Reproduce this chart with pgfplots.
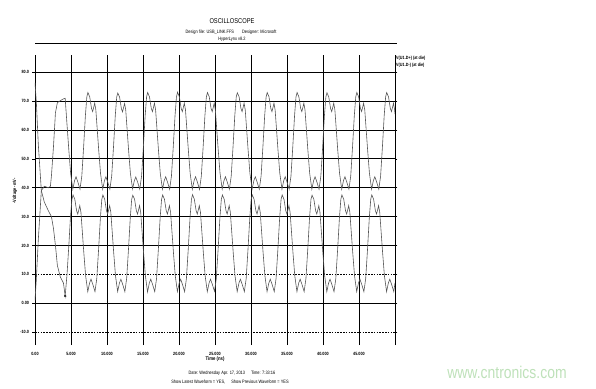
\documentclass[border=0pt]{standalone}
\usepackage{pgfplots}
\usepackage{pgfplotstable}
\pgfplotsset{compat=1.18}
\usepackage{fontspec}
\setmainfont{Liberation Sans}[FakeStretch=0.82]

\definecolor{trace}{RGB}{85,85,85}
\definecolor{wmark}{RGB}{190,225,185}

% upper trace, time in ns
\pgfplotstableread[row sep=\\]{
t v\\
0.00 1.0\\ 0.18 8\\ 0.46 22\\ 0.88 39\\ 1.30 40.5\\ 1.86 40\\ 2.14 40.5\\ 2.28 44\\ 2.56 54\\
2.84 66\\ 3.11 69.5\\ 3.53 70.2\\ 3.95 70.8\\ 4.19 71\\ 4.50 60\\ 4.70 53\\ 4.95 45\\ 5.25 39.5\\
5.50 42.5\\ 5.70 43.8\\ 5.95 42\\ 6.25 39.5\\ 6.50 44\\ 6.75 54\\ 7.00 65\\ 7.20 71.5\\
7.35 73\\ 7.60 71.5\\ 7.85 67.5\\ 8.01 66.4\\ 8.15 67.8\\ 8.29 69.3\\ 8.45 67\\ 8.65 60\\ 8.85 53\\
9.10 45\\ 9.40 39.5\\ 9.65 42.5\\ 9.85 43.8\\ 10.10 42\\ 10.40 39.5\\ 10.65 44\\ 10.90 54\\ 11.15 65\\ 11.35 71.5\\
11.50 72.8\\ 11.75 71.4\\ 12.00 67.4\\ 12.16 66.3\\ 12.30 67.8\\ 12.44 69.2\\ 12.60 67\\ 12.80 60\\ 13.00 53\\
13.25 45\\ 13.55 39.6\\ 13.80 42.5\\ 14.00 43.7\\ 14.25 42\\ 14.55 39.5\\ 14.80 44\\ 15.05 54\\ 15.30 65\\ 15.50 71.5\\
15.65 73\\ 15.90 71.5\\ 16.15 67.5\\ 16.31 66.4\\ 16.45 67.8\\ 16.59 69.3\\ 16.75 67\\ 16.95 60\\ 17.15 53\\
17.40 45\\ 17.70 39.5\\ 17.95 42.5\\ 18.15 43.8\\ 18.40 42\\ 18.70 39.5\\ 18.95 44\\ 19.20 54\\ 19.45 65\\ 19.65 71.5\\
19.80 73.1\\ 20.05 71.5\\ 20.30 67.5\\ 20.46 66.4\\ 20.60 67.8\\ 20.74 69.3\\ 20.90 67\\ 21.10 60\\ 21.30 53\\
21.55 45\\ 21.85 39.5\\ 22.10 42.5\\ 22.30 43.8\\ 22.55 42\\ 22.85 39.4\\ 23.10 44\\ 23.35 54\\ 23.60 65\\ 23.80 71.5\\
23.95 73\\ 24.20 71.5\\ 24.45 67.5\\ 24.61 66.4\\ 24.75 67.8\\ 24.89 69.3\\ 25.05 67\\ 25.25 60\\ 25.45 53\\
25.70 45\\ 26.00 39.5\\ 26.25 42.5\\ 26.45 43.8\\ 26.70 42\\ 27.00 39.5\\ 27.25 44\\ 27.50 54\\ 27.75 65\\ 27.95 71.5\\
28.10 72.9\\ 28.35 71.5\\ 28.60 67.5\\ 28.76 66.4\\ 28.90 67.8\\ 29.04 69.3\\ 29.20 67\\ 29.40 60\\ 29.60 53\\
29.85 45\\ 30.15 39.5\\ 30.40 42.5\\ 30.60 43.8\\ 30.85 42\\ 31.15 39.5\\ 31.40 44\\ 31.65 54\\ 31.90 65\\ 32.10 71.5\\
32.25 73\\ 32.50 71.5\\ 32.75 67.5\\ 32.91 66.4\\ 33.05 67.8\\ 33.19 69.3\\ 33.35 67\\ 33.55 60\\ 33.75 53\\
34.00 45\\ 34.30 39.5\\ 34.55 42.5\\ 34.75 43.8\\ 35.00 42\\ 35.30 39.5\\ 35.55 44\\ 35.80 54\\ 36.05 65\\ 36.25 71.5\\
36.40 73\\ 36.65 71.5\\ 36.90 67.5\\ 37.06 66.4\\ 37.20 67.8\\ 37.34 69.3\\ 37.50 67\\ 37.70 60\\ 37.90 53\\
38.15 45\\ 38.45 39.5\\ 38.70 42.5\\ 38.90 43.8\\ 39.15 42\\ 39.45 39.5\\ 39.70 44\\ 39.95 54\\ 40.20 65\\ 40.40 71.5\\
40.55 72.9\\ 40.80 71.5\\ 41.05 67.5\\ 41.21 66.4\\ 41.35 67.8\\ 41.49 69.3\\ 41.65 67\\ 41.85 60\\ 42.05 53\\
42.30 45\\ 42.60 39.5\\ 42.85 42.5\\ 43.05 43.8\\ 43.30 42\\ 43.60 39.5\\ 43.85 44\\ 44.10 54\\ 44.35 65\\ 44.55 71.5\\
44.70 73\\ 44.95 71.5\\ 45.20 67.5\\ 45.36 66.4\\ 45.50 67.8\\ 45.64 69.3\\ 45.80 67\\ 46.00 60\\ 46.20 53\\
46.45 45\\ 46.75 39.5\\ 47.00 42.5\\ 47.20 43.8\\ 47.45 42\\ 47.75 39.5\\ 48.00 44\\ 48.25 54\\ 48.50 65\\ 48.70 71.5\\
48.85 73\\ 49.10 71.5\\ 49.35 67.5\\ 49.51 66.4\\ 49.65 67.8\\ 49.79 69.3\\ 49.95 67\\ 50.00 65.5\\
}\uppertrace

% lower trace, time in ns
\pgfplotstableread[row sep=\\]{
t v\\
0.00 76.3\\ 0.18 70\\ 0.46 55\\ 0.88 39\\ 1.30 35\\ 1.86 32\\ 2.28 30\\ 2.56 26\\ 2.84 20\\
3.11 13\\ 3.53 9\\ 3.95 7\\ 4.19 2.5\\ 4.45 10\\ 4.70 20\\ 4.93 30\\ 5.13 36\\
5.28 37.5\\ 5.53 36\\ 5.78 32\\ 5.94 30.9\\ 6.08 32.3\\ 6.22 33.8\\ 6.38 31.5\\ 6.58 24.5\\ 6.78 17.5\\
7.03 9.5\\ 7.33 4\\ 7.58 7\\ 7.78 8.3\\ 8.03 6.5\\ 8.33 4\\ 8.58 8.5\\ 8.83 18.5\\ 9.08 29.5\\ 9.28 36\\
9.43 37.5\\ 9.68 36\\ 9.93 32\\ 10.09 30.9\\ 10.23 32.3\\ 10.37 33.8\\ 10.53 31.5\\ 10.73 24.5\\ 10.93 17.5\\
11.18 9.5\\ 11.48 4\\ 11.73 7\\ 11.93 8.3\\ 12.18 6.5\\ 12.48 4\\ 12.73 8.5\\ 12.98 18.5\\ 13.23 29.5\\ 13.43 36\\
13.58 37.4\\ 13.83 36\\ 14.08 32\\ 14.24 30.9\\ 14.38 32.3\\ 14.52 33.8\\ 14.68 31.5\\ 14.88 24.5\\ 15.08 17.5\\
15.33 9.5\\ 15.63 3.9\\ 15.88 7\\ 16.08 8.3\\ 16.33 6.5\\ 16.63 4\\ 16.88 8.5\\ 17.13 18.5\\ 17.38 29.5\\ 17.58 36\\
17.73 37.5\\ 17.98 36\\ 18.23 32\\ 18.39 30.9\\ 18.53 32.3\\ 18.67 33.8\\ 18.83 31.5\\ 19.03 24.5\\ 19.23 17.5\\
19.48 9.5\\ 19.78 4\\ 20.03 7\\ 20.23 8.3\\ 20.48 6.5\\ 20.78 4\\ 21.03 8.5\\ 21.28 18.5\\ 21.53 29.5\\ 21.73 36\\
21.88 37.6\\ 22.13 36\\ 22.38 32\\ 22.54 30.9\\ 22.68 32.3\\ 22.82 33.8\\ 22.98 31.5\\ 23.18 24.5\\ 23.38 17.5\\
23.63 9.5\\ 23.93 4\\ 24.18 7\\ 24.38 8.3\\ 24.63 6.5\\ 24.93 4.1\\ 25.18 8.5\\ 25.43 18.5\\ 25.68 29.5\\ 25.88 36\\
26.03 37.5\\ 26.28 36\\ 26.53 32\\ 26.69 30.9\\ 26.83 32.3\\ 26.97 33.8\\ 27.13 31.5\\ 27.33 24.5\\ 27.53 17.5\\
27.78 9.5\\ 28.08 4\\ 28.33 7\\ 28.53 8.3\\ 28.78 6.5\\ 29.08 4\\ 29.33 8.5\\ 29.58 18.5\\ 29.83 29.5\\ 30.03 36\\
30.18 37.5\\ 30.43 36\\ 30.68 32\\ 30.84 30.9\\ 30.98 32.3\\ 31.12 33.8\\ 31.28 31.5\\ 31.48 24.5\\ 31.68 17.5\\
31.93 9.5\\ 32.23 4\\ 32.48 7\\ 32.68 8.3\\ 32.93 6.5\\ 33.23 4\\ 33.48 8.5\\ 33.73 18.5\\ 33.98 29.5\\ 34.18 36\\
34.33 37.5\\ 34.58 36\\ 34.83 32\\ 34.99 30.9\\ 35.13 32.3\\ 35.27 33.8\\ 35.43 31.5\\ 35.63 24.5\\ 35.83 17.5\\
36.08 9.5\\ 36.38 4\\ 36.63 7\\ 36.83 8.3\\ 37.08 6.5\\ 37.38 4\\ 37.63 8.5\\ 37.88 18.5\\ 38.13 29.5\\ 38.33 36\\
38.48 37.4\\ 38.73 36\\ 38.98 32\\ 39.14 30.9\\ 39.28 32.3\\ 39.42 33.8\\ 39.58 31.5\\ 39.78 24.5\\ 39.98 17.5\\
40.23 9.5\\ 40.53 4\\ 40.78 7\\ 40.98 8.3\\ 41.23 6.5\\ 41.53 4\\ 41.78 8.5\\ 42.03 18.5\\ 42.28 29.5\\ 42.48 36\\
42.63 37.5\\ 42.88 36\\ 43.13 32\\ 43.29 30.9\\ 43.43 32.3\\ 43.57 33.8\\ 43.73 31.5\\ 43.93 24.5\\ 44.13 17.5\\
44.38 9.5\\ 44.68 4\\ 44.93 7\\ 45.13 8.3\\ 45.38 6.5\\ 45.68 4\\ 45.93 8.5\\ 46.18 18.5\\ 46.43 29.5\\ 46.63 36\\
46.78 37.5\\ 47.03 36\\ 47.28 32\\ 47.44 30.9\\ 47.58 32.3\\ 47.72 33.8\\ 47.88 31.5\\ 48.08 24.5\\ 48.28 17.5\\
48.53 9.5\\ 48.83 4\\ 49.08 7\\ 49.28 8.3\\ 49.53 6.5\\ 49.83 4\\ 50.00 7\\
}\lowertrace

\begin{document}
\begin{tikzpicture}
\useasboundingbox (0pt,0pt) rectangle (596pt,388pt);

\begin{axis}[
  at={(35pt,43pt)}, anchor=south west,
  scale only axis, width=360pt, height=290pt,
  xmin=0, xmax=50, ymin=-14.5, ymax=86,
  axis line style={draw=none},
  xtick={0,5,...,50},
  xticklabels={0.00,5.000,10.000,15.000,20.000,25.000,30.000,35.000,40.000,45.000,{}},
  xtick style={draw=none},
  xmajorgrids,
  ytick={0,20,30,40,50,60,70,80},
  yticklabels={0.00,20.0,30.0,40.0,50.0,60.0,70.0,80.0},
  extra y ticks={-10,10},
  extra y tick labels={-10.0,10.0},
  extra y tick style={grid=major,
    major grid style={black, line width=0.7pt, dash pattern=on 1.6pt off 1.2pt}},
  ymajorgrids,
  major grid style={black, line width=0.9pt},
  ytick style={black, line width=0.6pt},
  major tick length=2.5pt,
  tick align=outside,
  ticklabel style={font=\fontsize{4.6}{5}\selectfont\bfseries},
  xticklabel style={yshift=-0.8pt},
  /pgf/number format/assume math mode=true,
]
\addplot[trace, line width=0.6pt] table[x=t, y=v] {\uppertrace};
\addplot[trace, line width=0.6pt] table[x=t, y=v] {\lowertrace};
\addplot[only marks, mark=x, mark size=1.4pt, black, mark options={line width=0.5pt}]
  coordinates {(4.19,2.5)};
\end{axis}

% header
\draw[black, line width=0.9pt] (35pt,345pt) -- (397pt,345pt);
\node[font=\fontsize{7}{8}\selectfont] at (232pt,367pt) {OSCILLOSCOPE};
\node[font=\fontsize{4.8}{5}\selectfont] at (231pt,355.5pt)
  {Design file: USB\_LINK.FFS\hspace{8pt}Designer: Microsoft};
\node[font=\fontsize{4.8}{5}\selectfont] at (232pt,348.8pt) {HyperLynx v8.2};

% probe list
\node[anchor=west, font=\fontsize{4.6}{5}\selectfont\bfseries, inner sep=0pt]
  at (396pt,330pt) {V(U1.D+) (at die)};
\node[anchor=west, font=\fontsize{4.6}{5}\selectfont\bfseries, inner sep=0pt]
  at (396pt,323pt) {V(U1.D-) (at die)};

% axis titles
\node[rotate=90, font=\fontsize{4.8}{5}\selectfont\bfseries] at (15pt,197pt)
  {-Voltage -mV-};
\node[font=\fontsize{5.2}{6}\selectfont\bfseries] at (215pt,28.5pt) {Time (ns)};

% footer
\node[font=\fontsize{4.8}{5}\selectfont] at (232pt,15pt)
  {Date: Wednesday Apr. 17, 2013\hspace{6pt}Time: 7:33:16};
\node[font=\fontsize{4.8}{5}\selectfont] at (230pt,5.5pt)
  {Show Latest Waveform = YES,\hspace{6pt}Show Previous Waveform = YES};

\node[font=\fontsize{17}{18}\selectfont, text=wmark] at (507pt,16pt) {www.cntronics.com};
\end{tikzpicture}
\end{document}
